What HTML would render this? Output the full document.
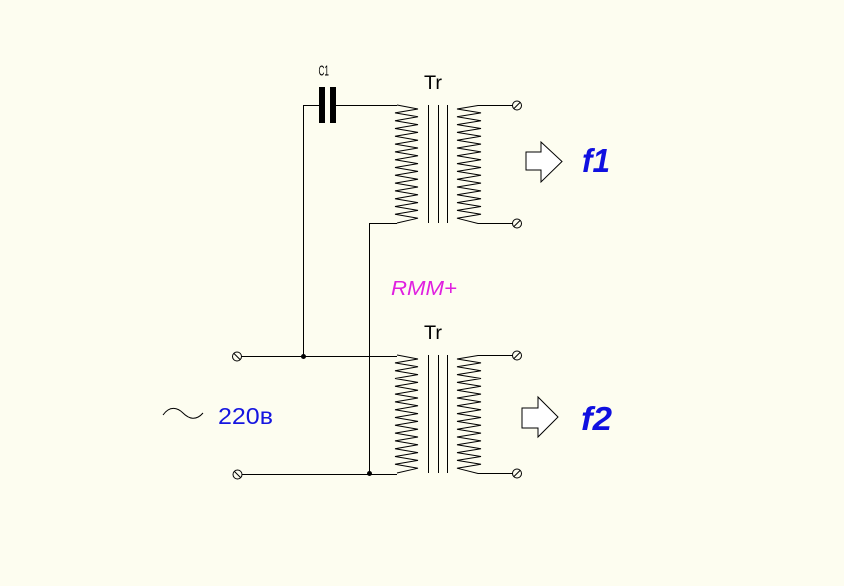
<!DOCTYPE html>
<html>
<head>
<meta charset="utf-8">
<style>
  html,body{margin:0;padding:0;background:#fdfdf0;}
  svg{display:block;}
</style>
</head>
<body>
<svg width="844" height="586" viewBox="0 0 844 586" xmlns="http://www.w3.org/2000/svg">
  <rect x="0" y="0" width="844" height="586" fill="#fdfdf0"/>

  <defs>
    <g id="xf">
      <!-- primary coil -->
      <polyline fill="none" stroke="#000" stroke-width="1"
        points="397,105 418,109 395,112.9 418,116.8 395,120.7 418,124.6 395,128.5 418,132.4 395,136.3 418,140.2 395,144.1 418,148 395,151.9 418,155.8 395,159.7 418,163.6 395,167.5 418,171.4 395,175.3 418,179.2 395,183.1 418,187 395,190.9 418,194.8 395,198.7 418,202.6 395,206.5 418,210.4 395,214.3 418,218.2 397,223"/>
      <!-- core -->
      <line x1="428.5" y1="105" x2="428.5" y2="223" stroke="#000" stroke-width="1"/>
      <line x1="438.5" y1="105" x2="438.5" y2="223" stroke="#000" stroke-width="1"/>
      <line x1="447.5" y1="105" x2="447.5" y2="223" stroke="#000" stroke-width="1"/>
      <!-- secondary coil -->
      <polyline fill="none" stroke="#000" stroke-width="1"
        points="513,105.5 478,105.5 457,109 481,112.9 457,116.8 481,120.7 457,124.6 481,128.5 457,132.4 481,136.3 457,140.2 481,144.1 457,148 481,151.9 457,155.8 481,159.7 457,163.6 481,167.5 457,171.4 481,175.3 457,179.2 481,183.1 457,187 481,190.9 457,194.8 481,198.7 457,202.6 481,206.5 457,210.4 481,214.3 457,218.2 478,223.5 513,223.5"/>
      <!-- output terminals -->
      <g stroke="#000" stroke-width="1" fill="#fdfdf0">
        <circle cx="517" cy="105.5" r="4.5"/>
        <line x1="514" y1="108.5" x2="520" y2="102.5"/>
        <circle cx="517" cy="223.5" r="4.5"/>
        <line x1="514" y1="226.5" x2="520" y2="220.5"/>
      </g>
      <text x="424" y="89" font-family="Liberation Sans, sans-serif" font-size="19" fill="#000" textLength="18" lengthAdjust="spacingAndGlyphs">Tr</text>
    </g>
  </defs>

  <use href="#xf"/>
  <use href="#xf" transform="translate(0,250)"/>

  <!-- wiring -->
  <g stroke="#000" stroke-width="1" fill="none">
    <polyline points="319,105.5 303.5,105.5 303.5,356.5"/>
    <line x1="335" y1="105.5" x2="397" y2="105.5"/>
    <polyline points="397,223.5 369.5,223.5 369.5,473.5"/>
    <line x1="241.5" y1="356.5" x2="397" y2="356.5"/>
    <line x1="241.5" y1="474.5" x2="397" y2="474.5"/>
  </g>

  <!-- capacitor plates -->
  <rect x="319" y="87" width="6" height="36" fill="#000"/>
  <rect x="330" y="87" width="6" height="36" fill="#000"/>
  <text x="318.5" y="75.5" font-family="Liberation Sans, sans-serif" font-size="15" fill="#000" textLength="10.5" lengthAdjust="spacingAndGlyphs">C1</text>

  <!-- junction dots -->
  <circle cx="303.5" cy="356.5" r="2.5" fill="#000"/>
  <circle cx="369.5" cy="473.5" r="2.5" fill="#000"/>

  <!-- input terminals -->
  <g stroke="#000" stroke-width="1" fill="#fdfdf0">
    <circle cx="237" cy="356.5" r="4.5"/>
    <line x1="234" y1="353.5" x2="240" y2="359.5"/>
    <circle cx="237.5" cy="474.5" r="4.5"/>
    <line x1="234.5" y1="471.5" x2="240.5" y2="477.5"/>
  </g>

  <!-- tilde -->
  <path d="M163,415 C170,405 178,408 183,413 C189,419 196,421 203,413" fill="none" stroke="#000" stroke-width="1"/>

  <!-- labels -->
  <text x="218" y="424" font-family="Liberation Sans, sans-serif" font-size="23" fill="#1515e0" textLength="55" lengthAdjust="spacingAndGlyphs">220в</text>
  <text x="391" y="295" font-family="Liberation Sans, sans-serif" font-size="20" font-style="italic" fill="#e020e0" textLength="66" lengthAdjust="spacingAndGlyphs">RMM+</text>

  <!-- arrows -->
  <polygon points="526,152 541,152 541,142 562,161.5 541,182 541,170 526,170" fill="#fff" stroke="#000" stroke-width="1"/>
  <polygon points="522,408 538,408 538,397 558,417 538,437 538,428 522,428" fill="#fff" stroke="#000" stroke-width="1"/>

  <text x="582" y="172" font-family="Liberation Sans, sans-serif" font-size="33" font-weight="bold" font-style="italic" fill="#1010e0" textLength="28" lengthAdjust="spacingAndGlyphs">f1</text>
  <text x="581" y="430" font-family="Liberation Sans, sans-serif" font-size="33" font-weight="bold" font-style="italic" fill="#1010e0" textLength="31" lengthAdjust="spacingAndGlyphs">f2</text>
</svg>
</body>
</html>
